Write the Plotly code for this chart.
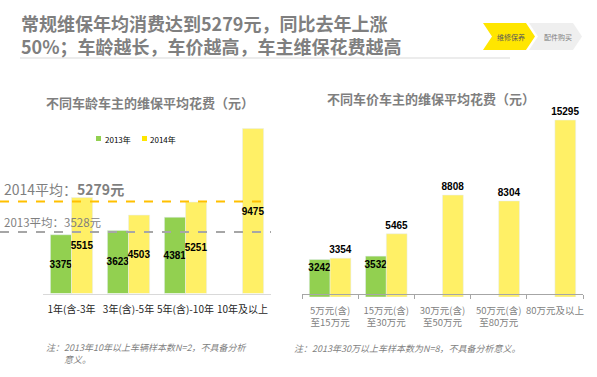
import plotly.graph_objects as go

W, H = 597, 377

# ---- data ----
age_cats = ["1年(含-3年", "3年(含)-5年", "5年(含)-10年", "10年及以上"]
age_2013 = [3375, 3623, 4381, None]
age_2014 = [5515, 4503, 5251, 9475]
avg_2013 = 3528
avg_2014 = 5279

price_cats = ["5万元(含)<br>至15万元", "15万元(含)<br>至30万元", "30万元(含)<br>至50万元",
              "50万元(含)<br>至80万元", "80万元及以上"]
price_2013 = [3242, 3532, None, None, None]
price_2014 = [3354, 5465, 8808, 8304, 15295]

series_names = ["2013年", "2014年"]

GREEN = "#92d050"
YELLOW = "#fff066"
CJK = "Noto Sans CJK SC, Liberation Sans, Arial"
NUM = "Liberation Sans, Arial"


def px(x):
    return x / W


def py(y):
    return 1 - y / H


def txt(vals):
    return ["" if v is None else str(v) for v in vals]


NUMFONT = dict(family=NUM, size=10, color="black", weight="bold")

fig = go.Figure()

# left chart
fig.add_trace(go.Bar(x=age_cats, y=age_2013, name=series_names[0], marker_color=GREEN,
                     text=txt(age_2013), textposition="inside", insidetextanchor="middle",
                     textangle=0, textfont=NUMFONT, constraintext="none",
                     xaxis="x", yaxis="y", cliponaxis=False, showlegend=False))
fig.add_trace(go.Bar(x=age_cats, y=age_2014, name=series_names[1], marker_color=YELLOW,
                     text=txt(age_2014), textposition="inside", insidetextanchor="middle",
                     textangle=0, textfont=NUMFONT, constraintext="none",
                     xaxis="x", yaxis="y", cliponaxis=False, showlegend=False))
# right chart
fig.add_trace(go.Bar(x=price_cats, y=price_2013, name=series_names[0], marker_color=GREEN,
                     text=txt(price_2013), textposition="inside", insidetextanchor="end",
                     textangle=0, textfont=NUMFONT, constraintext="none",
                     xaxis="x2", yaxis="y2", showlegend=False, cliponaxis=False))
fig.add_trace(go.Bar(x=price_cats, y=price_2014, name=series_names[1], marker_color=YELLOW,
                     text=txt(price_2014), textposition="outside",
                     textangle=0, textfont=NUMFONT, constraintext="none",
                     xaxis="x2", yaxis="y2", showlegend=False, cliponaxis=False))

left_base, right_base, top = 293.5, 297, 100
fig.update_layout(
    width=W, height=H, margin=dict(l=0, r=0, t=0, b=0, autoexpand=False),
    paper_bgcolor="white", plot_bgcolor="white",
    barmode="group", bargap=0.26, bargroupgap=0,
    uniformtext=dict(minsize=10, mode="show"),
    font=dict(family=CJK, size=10, color="#404040"),
    showlegend=False,
    xaxis=dict(domain=[px(43), px(271)], showgrid=False, zeroline=False, automargin=False,
               showline=True, linecolor="#d9d9d9", linewidth=1, ticks="", tickangle=0,
               ticklabelstandoff=6,
               tickfont=dict(family=CJK, size=10, color="#262626"), fixedrange=True),
    yaxis=dict(domain=[py(left_base), py(top)], range=[0, (left_base - top) / 0.01741],
               visible=False, fixedrange=True, automargin=False),
    xaxis2=dict(domain=[px(302), px(583)], showgrid=False, zeroline=False, automargin=False,
                showline=True, linecolor="#a6a6a6", linewidth=1, ticks="outside",
                tickson="boundaries", ticklen=4, tickcolor="#a6a6a6", tickangle=0,
                ticklabelstandoff=8,
                tickfont=dict(family=CJK, size=9.5, color="#7f7f7f"), fixedrange=True),
    yaxis2=dict(domain=[py(right_base), py(top)], range=[0, (right_base - top) / 0.01157],
                visible=False, fixedrange=True, automargin=False),
)

shapes = []
# average lines
shapes.append(dict(type="line", xref="paper", yref="y", x0=0, x1=px(270), y0=avg_2014, y1=avg_2014,
                   line=dict(color="#ffc000", width=2, dash="dash")))
shapes.append(dict(type="line", xref="paper", yref="y", x0=0, x1=px(271), y0=avg_2013, y1=avg_2013,
                   line=dict(color="#a6a6a6", width=2, dash="dash")))
# header underline
shapes.append(dict(type="line", xref="paper", yref="paper", x0=px(20), x1=px(510), y0=py(58), y1=py(58),
                   line=dict(color="#d9d9d9", width=1)))
# legend swatches
shapes.append(dict(type="rect", xref="paper", yref="paper", x0=px(96), x1=px(101), y0=py(136), y1=py(141),
                   fillcolor=GREEN, line=dict(width=0)))
shapes.append(dict(type="rect", xref="paper", yref="paper", x0=px(142), x1=px(147), y0=py(136), y1=py(141),
                   fillcolor="#ffe600", line=dict(width=0)))


def chev(x0, x1, y0, y1, notch, fill):
    ym = (y0 + y1) / 2
    pts = [(x0, y0), (x1 - notch, y0), (x1, ym), (x1 - notch, y1), (x0, y1), (x0 + notch, ym)]
    path = "M " + " L ".join(f"{px(a):.5f},{py(b):.5f}" for a, b in pts) + " Z"
    return dict(type="path", xref="paper", yref="paper", path=path, fillcolor=fill, line=dict(width=0))


shapes.append(chev(529, 582, 23, 50, 9, "#efefef"))
shapes.append(chev(483, 535, 23, 50, 9, "#ffe600"))
fig.update_layout(shapes=shapes)


def note(x, y, text, size, color, xanchor="center", yanchor="middle", **kw):
    return dict(xref="paper", yref="paper", x=px(x), y=py(y), xanchor=xanchor, yanchor=yanchor,
                showarrow=False, text=text, font=dict(family=CJK, size=size, color=color), **kw)


ann = [
    note(19, 8, "<b>常规维保年均消费达到5279元，同比去年上涨<br>50%；车龄越长，车价越高，车主维保花费越高</b>",
         18, "#7f7f7f", xanchor="left", yanchor="top", align="left"),
    note(511, 36.5, "维修保养", 7, "#595959"),
    note(558, 36.5, "配件购买", 7, "#7f7f7f"),
    note(150, 102, "<b>不同车龄车主的维保平均花费（元）</b>", 13, "#7f7f7f"),
    note(431, 99, "<b>不同车价车主的维保平均花费（元）</b>", 13, "#7f7f7f"),
    note(103, 139, series_names[0], 8, "black", xanchor="left"),
    note(148, 139, series_names[1], 8, "black", xanchor="left"),
    note(2, 189, "2014平均：<b>5279元</b>", 14, "#7f7f7f", xanchor="left"),
    note(2, 222, "2013平均：3528元", 11.5, "#7f7f7f", xanchor="left"),
    note(44, 339, "<i>注：2013年10年以上车辆样本数N=2，不具备分析<br>\u3000\u3000意义。</i>", 9, "#7f7f7f",
         xanchor="left", yanchor="top", align="left"),
    note(292, 348, "<i>注：2013年30万以上车样本数为N=8，不具备分析意义。</i>", 9, "#7f7f7f", xanchor="left"),
]
fig.update_layout(annotations=ann)

fig.write_html("out.html", config={"displayModeBar": False},
               post_script="document.body.style.margin='0';")
